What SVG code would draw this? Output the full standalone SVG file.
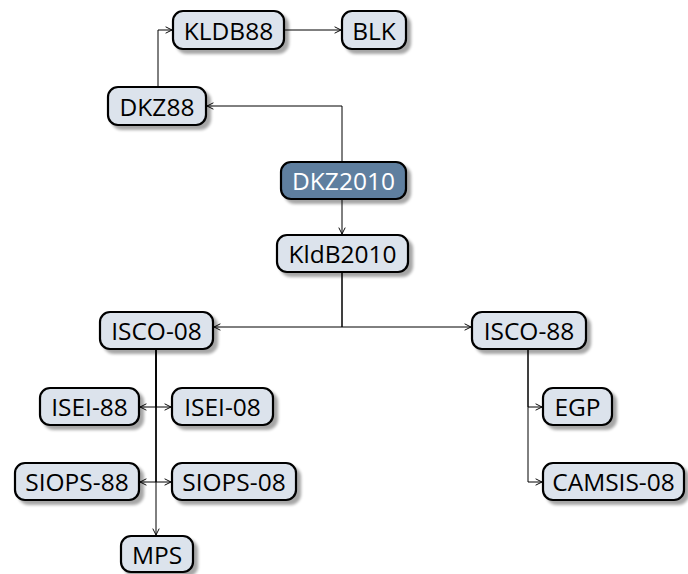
<svg xmlns="http://www.w3.org/2000/svg" width="688" height="574" viewBox="0 0 688 574">
<defs>
<filter id="sh" x="-20%" y="-30%" width="150%" height="170%">
<feGaussianBlur in="SourceAlpha" stdDeviation="1.5"/>
<feOffset dx="4" dy="4" result="b"/>
<feComponentTransfer><feFuncA type="linear" slope="0.35"/></feComponentTransfer>
<feMerge><feMergeNode/><feMergeNode in="SourceGraphic"/></feMerge>
</filter>
<marker id="ar" viewBox="0 0 10 10" refX="9" refY="5" markerWidth="8" markerHeight="8" markerUnits="userSpaceOnUse" orient="auto">
<path d="M1,1 L9,5 L1,9" fill="none" stroke="#000" stroke-width="1.2"/>
</marker>
<style>
.b{fill:#dce3ec;stroke:#000;stroke-width:2.2;filter:url(#sh)}
.d{fill:#5f7f9f;stroke:#000;stroke-width:2.2;filter:url(#sh)}
.t{font-family:"Open Sans","Noto Sans",sans-serif;font-size:24.5px;fill:#000;text-anchor:middle;dominant-baseline:central}
.w{fill:#fff}
.c{fill:none;stroke:#000;stroke-width:1;marker-end:url(#ar)}
</style>
</defs>
<g id="connectors">
<path class="c" d="M158,86 V30 H172"/>
<path class="c" d="M284,30 H341"/>
<path class="c" d="M342,162 V106 H207"/>
<path class="c" d="M342,199 V234"/>
<path class="c" d="M342,272 V327 H214"/>
<path class="c" d="M342,272 V327 H471"/>
<path class="c" d="M156,349 V407 H140"/>
<path class="c" d="M156,349 V407 H171"/>
<path class="c" d="M156,349 V482 H140"/>
<path class="c" d="M156,349 V482 H171"/>
<path class="c" d="M156,349 V535"/>
<path class="c" d="M528,349 V407 H542"/>
<path class="c" d="M528,349 V482 H542"/>
</g>
<g id="KLDB88"><rect class="b" x="173" y="11" width="111" height="38" rx="10"/><text class="t" x="228.5" y="30">KLDB88</text></g>
<g id="BLK"><rect class="b" x="342" y="11" width="64" height="38" rx="10"/><text class="t" x="374" y="30">BLK</text></g>
<g id="DKZ88"><rect class="b" x="108" y="87" width="98" height="38" rx="10"/><text class="t" x="157" y="106">DKZ88</text></g>
<g id="DKZ2010"><rect class="d" x="281" y="162" width="125" height="37" rx="10"/><text class="t w" x="343.5" y="180.5">DKZ2010</text></g>
<g id="KldB2010"><rect class="b" x="277" y="235" width="131" height="37" rx="10"/><text class="t" x="342.5" y="253.5">KldB2010</text></g>
<g id="ISCO-08"><rect class="b" x="100" y="312" width="113" height="37" rx="10"/><text class="t" x="156.5" y="330.5">ISCO-08</text></g>
<g id="ISCO-88"><rect class="b" x="472" y="312" width="114" height="37" rx="10"/><text class="t" x="529" y="330.5">ISCO-88</text></g>
<g id="ISEI-88"><rect class="b" x="40" y="388" width="99" height="37" rx="10"/><text class="t" x="89.5" y="406.5">ISEI-88</text></g>
<g id="ISEI-08"><rect class="b" x="172" y="388" width="101" height="37" rx="10"/><text class="t" x="222.5" y="406.5">ISEI-08</text></g>
<g id="SIOPS-88"><rect class="b" x="15" y="463" width="124" height="37" rx="10"/><text class="t" x="77" y="481.5">SIOPS-88</text></g>
<g id="SIOPS-08"><rect class="b" x="172" y="463" width="124" height="37" rx="10"/><text class="t" x="234" y="481.5">SIOPS-08</text></g>
<g id="MPS"><rect class="b" x="121" y="536" width="72" height="36" rx="10"/><text class="t" x="157" y="554">MPS</text></g>
<g id="EGP"><rect class="b" x="543" y="388" width="69" height="37" rx="10"/><text class="t" x="577.5" y="406.5">EGP</text></g>
<g id="CAMSIS-08"><rect class="b" x="543" y="463" width="141" height="37" rx="10"/><text class="t" x="613.5" y="481.5">CAMSIS-08</text></g>
</svg>
